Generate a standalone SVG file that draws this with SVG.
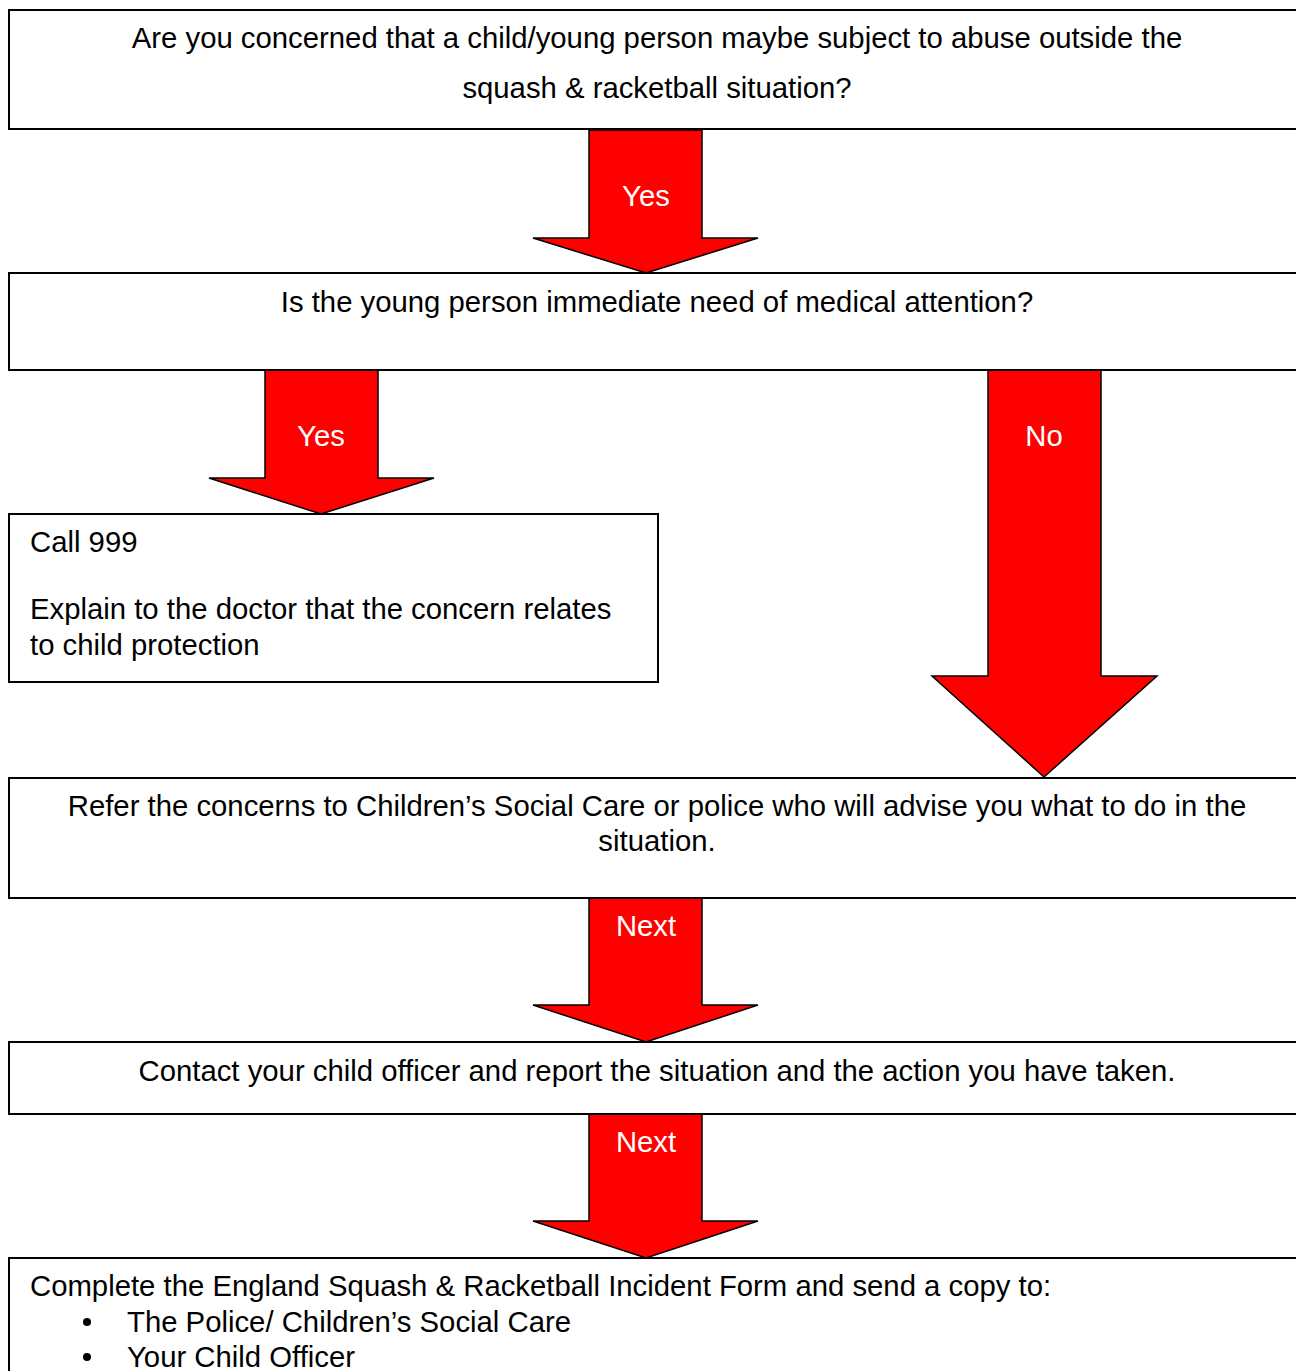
<svg xmlns="http://www.w3.org/2000/svg" width="1296" height="1371" viewBox="0 0 1296 1371">
<style>
.box{fill:#fff;stroke:#000;stroke-width:2}
.arr{fill:#ff0000;stroke:#000;stroke-width:1.5;stroke-linejoin:miter}
text{font-family:"Liberation Sans",Arial,sans-serif;font-size:29.3px;fill:#000}
.c{text-anchor:middle}
.w{fill:#fff;text-anchor:middle}
</style>
<rect width="1296" height="1371" fill="#fff"/>
<g id="connectors">
<polygon class="arr" points="589,130 702,130 702,238 758,238 646,273 533,238 589,238"/>
<text class="w" x="646" y="206">Yes</text>
<polygon class="arr" points="265,370 378,370 378,478 434,478 321,514 209,478 265,478"/>
<text class="w" x="321" y="446">Yes</text>
<polygon class="arr" points="988,370 1101,370 1101,676 1157,676 1044,777 932,676 988,676"/>
<text class="w" x="1044" y="446">No</text>
<polygon class="arr" points="589,898 702,898 702,1005 758,1005 646,1042 533,1005 589,1005"/>
<text class="w" x="646" y="936">Next</text>
<polygon class="arr" points="589,1114 702,1114 702,1221 758,1221 646,1258 533,1221 589,1221"/>
<text class="w" x="646" y="1152">Next</text>
</g>
<g id="n1">
<rect class="box" x="9" y="10" width="1300" height="119"/>
<text class="c" x="657" y="48">Are you concerned that a child/young person maybe subject to abuse outside the</text>
<text class="c" x="657" y="98">squash &amp; racketball situation?</text>
</g>
<g id="n2">
<rect class="box" x="9" y="273" width="1300" height="97"/>
<text class="c" x="657" y="312">Is the young person immediate need of medical attention?</text>
</g>
<g id="n3">
<rect class="box" x="9" y="514" width="649" height="168"/>
<text x="30" y="552">Call 999</text>
<text x="30" y="619">Explain to the doctor that the concern relates</text>
<text x="30" y="655">to child protection</text>
</g>
<g id="n4">
<rect class="box" x="9" y="778" width="1300" height="120"/>
<text class="c" x="657" y="816">Refer the concerns to Children’s Social Care or police who will advise you what to do in the</text>
<text class="c" x="657" y="851">situation.</text>
</g>
<g id="n5">
<rect class="box" x="9" y="1042" width="1300" height="72"/>
<text class="c" x="657" y="1081">Contact your child officer and report the situation and the action you have taken.</text>
</g>
<g id="n6">
<rect class="box" x="9" y="1258" width="1300" height="130"/>
<text x="30" y="1296">Complete the England Squash &amp; Racketball Incident Form and send a copy to:</text>
<circle cx="87" cy="1322" r="4"/>
<text x="127" y="1332">The Police/ Children’s Social Care</text>
<circle cx="87" cy="1357" r="4"/>
<text x="127" y="1367">Your Child Officer</text>
</g>
</svg>
